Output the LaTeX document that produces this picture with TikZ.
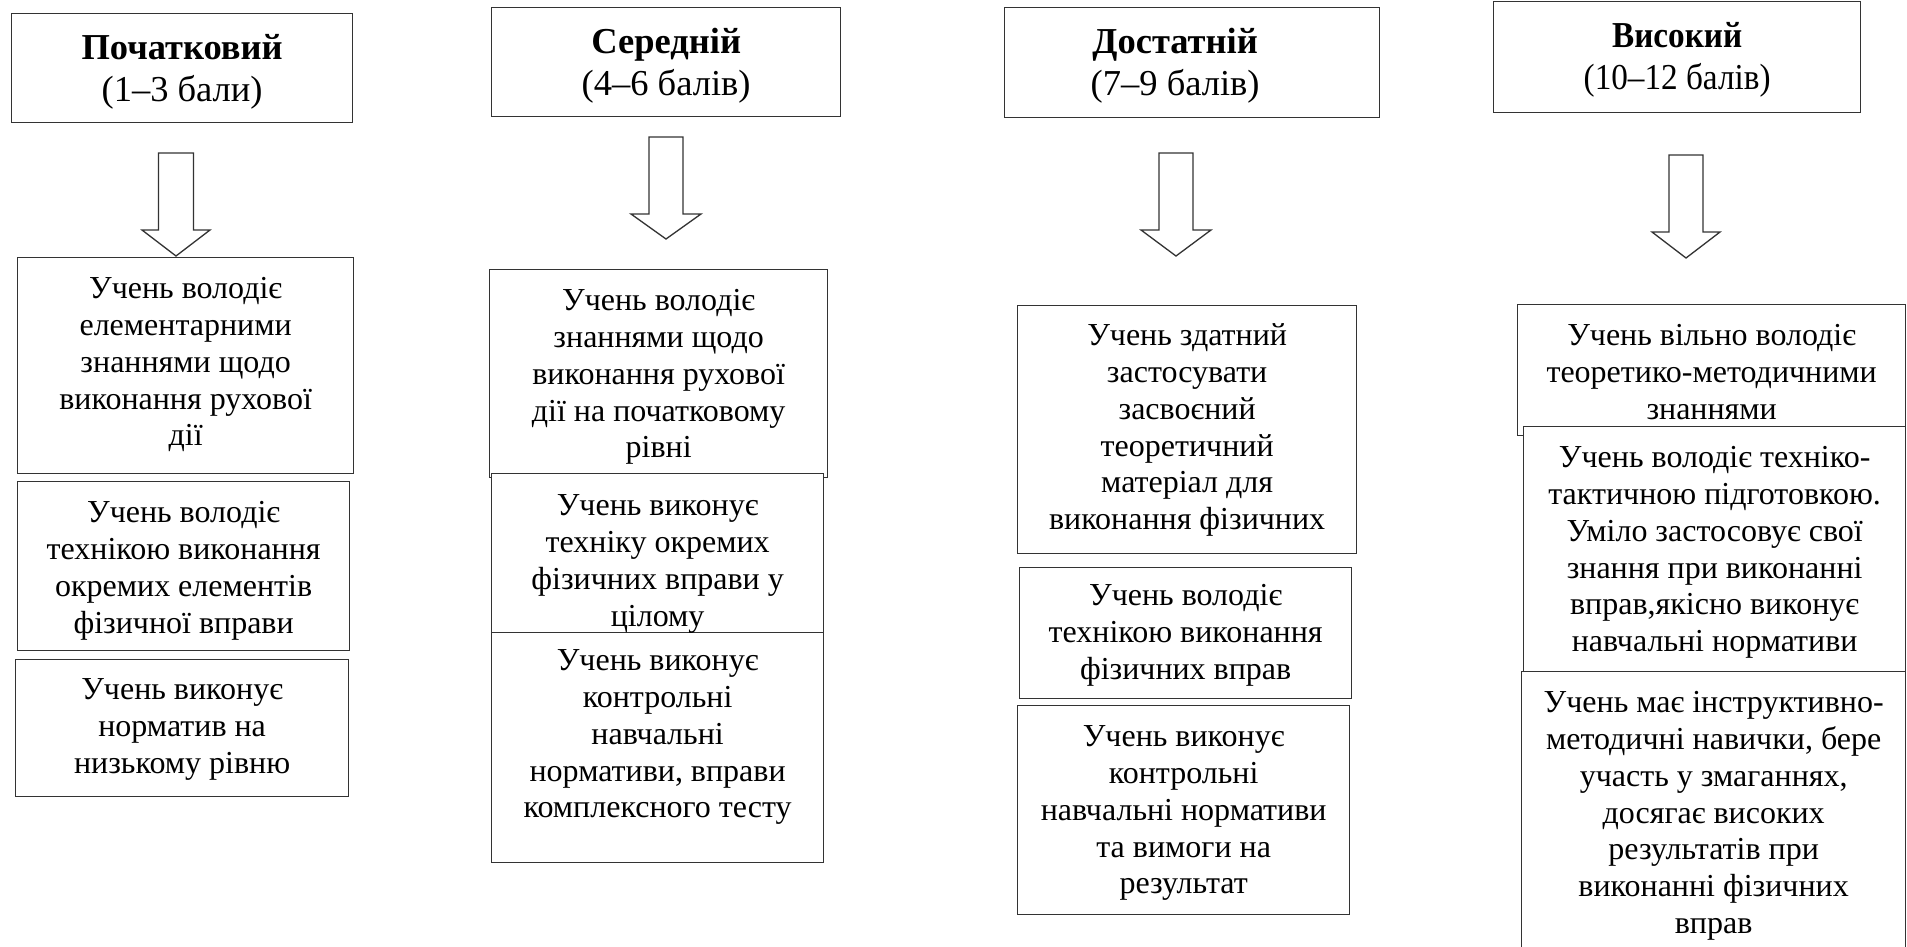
\documentclass[tikz,border=0pt]{standalone}
\usepackage{fontspec}
\usepackage{graphicx}
\setmainfont{Liberation Serif}
\newcommand\bodyfont{\fontsize{32}{36.8}\selectfont}
\newcommand\headfont{\fontsize{36.5}{41.5}\selectfont}
% width, height, first-baseline offset, text
\newcommand\boxtext[4]{\parbox[t][#2pt][t]{#1pt}{\centering\rule{0pt}{#3pt}#4\par}}
% width, height, first-baseline offset, text width (left part), text
\newcommand\boxtextL[5]{\parbox[t][#2pt][t]{#1pt}{\parbox[t]{#4pt}{\centering\rule{0pt}{#3pt}#5\par}\hfill\par}}
\newcommand\blockarr[5]{\draw[blockarrow] (#1) ++(-#2,0) -- ++(2*#2,0) -- ++(0,#4) -- ++(#3-#2,0) -- ++(-#3,#5) -- ++(-#3,-#5) -- ++(#3-#2,0) -- cycle;}
\tikzset{
  cell/.style={draw=black!80, line width=1.3pt, fill=white, anchor=north west, inner sep=0pt, font=\bodyfont},
  head/.style={cell, font=\headfont},
  blockarrow/.style={draw=black!80, line width=1.3pt, fill=white, line join=miter}
}
\begin{document}
\begin{tikzpicture}[x=1pt,y=-1pt]
\useasboundingbox (0,0) rectangle (1907,946);
\clip (0,0) rectangle (1907,946);
\fill[white] (0,0) rectangle (1907,946);

% headers
\node[head] (h1) at (11,13) {\boxtext{341}{109}{46}{\textbf{Початковий}\\(1–3 бали)}};
\node[head] (h2) at (491,7) {\boxtext{349}{109}{46}{\textbf{Середній}\\(4–6 балів)}};
\node[head] (h3) at (1004,7) {\boxtextL{375}{110}{46}{341}{\textbf{Достатній}\\(7–9 балів)}};
\node[head] (h4) at (1493,1) {\boxtext{367}{111}{46}{\scalebox{0.91}[1]{\textbf{Високий}}\\\scalebox{0.91}[1]{(10–12 балів)}}};

% block arrows
\coordinate (a1) at (176,153);
\coordinate (a2) at (666,137);
\coordinate (a3) at (1176,153);
\coordinate (a4) at (1686,155);
\blockarr{a1}{17.5}{34}{77}{26}
\blockarr{a2}{17}{35}{77}{25}
\blockarr{a3}{17}{35}{77}{26}
\blockarr{a4}{17}{34}{77}{26}

% column 1
\node[cell] (b1a) at (17,257) {\boxtext{336}{216}{41}{Учень володіє\\елементарними\\знаннями щодо\\виконання рухової\\дії}};
\node[cell] (b1b) at (17,481) {\boxtext{332}{169}{41}{Учень володіє\\технікою виконання\\окремих елементів\\фізичної вправи}};
\node[cell] (b1c) at (15,659) {\boxtext{333}{137}{40}{Учень виконує\\норматив на\\низькому рівню}};

% column 2
\node[cell] (b2a) at (489,269) {\boxtext{338}{208}{41}{Учень володіє\\знаннями щодо\\виконання рухової\\дії на початковому\\рівні}};
\node[cell] (b2c) at (491,632) {\boxtext{332}{230}{38}{Учень виконує\\контрольні\\навчальні\\нормативи, вправи\\комплексного тесту}};
\node[cell] (b2b) at (491,473) {\boxtext{332}{159}{42}{Учень виконує\\техніку окремих\\фізичних вправи у\\цілому}};

% column 3
\node[cell] (b3a) at (1017,305) {\boxtext{339}{248}{40}{Учень здатний\\застосувати\\засвоєний\\теоретичний\\матеріал для\\виконання фізичних}};
\node[cell] (b3b) at (1019,567) {\boxtext{332}{131}{38}{Учень володіє\\технікою виконання\\фізичних вправ}};
\node[cell] (b3c) at (1017,705) {\boxtext{332}{209}{41}{Учень виконує\\контрольні\\навчальні нормативи\\та вимоги на\\результат}};

% column 4
\node[cell] (b4a) at (1517,304) {\boxtext{388}{131}{41}{Учень вільно володіє\\теоретико-методичними\\знаннями}};
\node[cell] (b4c) at (1521,671) {\boxtext{384}{309}{41}{Учень має інструктивно-\\методичні навички, бере\\участь у змаганнях,\\досягає високих\\результатів при\\виконанні фізичних\\вправ}};
\node[cell] (b4b) at (1523,426) {\boxtext{382}{245}{41}{Учень володіє техніко-\\тактичною підготовкою.\\Уміло застосовує свої\\знання при виконанні\\вправ,якісно виконує\\навчальні нормативи}};
\end{tikzpicture}
\end{document}
